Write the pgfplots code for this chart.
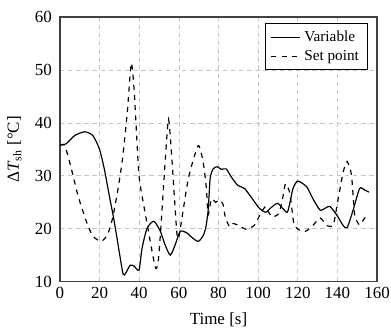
\documentclass[border=0pt]{standalone}
\usepackage{fontspec}
\setmainfont{Liberation Serif}
\usepackage{pgfplots}
\pgfplotsset{compat=1.18}
\begin{document}
\begin{tikzpicture}
\begin{axis}[
  width=187pt, height=156pt, scale only axis,
  xmin=0, xmax=160, ymin=10, ymax=60,
  xtick={0,20,...,160}, ytick={10,20,...,60},
  /pgf/number format/assume math mode=true,
  grid=major,
  major grid style={gray!45, dash pattern=on 2.6pt off 2.2pt, line width=0.35pt},
  major tick length=0pt,
  axis line style={black!75, line width=0.9pt},
  yticklabel style={xshift=-1.2pt},
  xlabel={Time [s]},
  xlabel style={yshift=-1.5pt},
  ylabel={Δ\textit{T}\textsubscript{sh} [°C]},
  ylabel style={yshift=1pt},
  legend style={at={(0.971,0.976)}, anchor=north east, draw=black, line width=0.5pt, font=\small, cells={anchor=west}},
  legend cell align=left,
]
\addplot[black, line width=0.7pt, smooth, tension=0.4] coordinates {
(0,35.8) (3,36.0) (7.5,37.6) (12.5,38.3) (16.6,37.6) (19.9,35.1) (22.4,31.3)
(24.9,26.3) (27.4,21.4) (29.9,15.7) (31.9,11.4) (33.2,11.6) (35.5,13.1)
(37.5,12.9) (39.9,12.2) (41.5,16.4) (44,20.1) (47.4,21.4) (50.7,19.5)
(53,17) (55.7,15) (58.2,17) (60.7,19.5) (64,19.2) (67,18.2) (69.8,17.6)
(72,18.5) (73.5,20) (74.8,23.5) (75.8,29.5) (77.3,31.3) (79.4,31.7)
(81.4,31.2) (83.9,31.3) (86.4,29.8) (89.7,28.2) (93.1,27.6) (96.4,26)
(100.5,23.9) (103.8,23.1) (106.3,23.9) (109.7,24.8) (112.2,23.9)
(114.7,23.1) (116.2,25.2) (117.6,27.6) (119.8,29) (123,28.4) (124.6,27.9)
(128,25.4) (131.3,23.5) (134,23.9) (136.2,24.2) (139.6,22.6) (142.9,20.6)
(144.9,20.2) (147.9,23.5) (151.2,27.6) (153.7,27.3) (155.9,26.9)
};
\addlegendentry{Variable}
\addplot[black, line width=0.7pt, dashed, smooth, tension=0.35] coordinates {
(0,35.8) (2.5,35.7) (5.8,31.3) (9.1,26.3) (13.3,21.4) (16.6,18.6)
(20.8,17.6) (24.1,18.9) (26.6,22) (29.1,27) (31.6,33.2) (34,42) (36,51.3)
(37.5,46) (39.9,30.1) (43.2,22.6) (46.5,15.7) (48.3,12.5) (49.5,13.5)
(50.7,18.9) (53.2,33.2) (54.8,40.7) (56.5,33.2) (59,19.2) (60.2,18.8)
(64.8,29.5) (69.8,35.7) (72.3,32.5) (73.9,27.6) (74.8,22.6) (76.4,25.6)
(78.6,25.0) (80.6,25.4) (82.3,24.6) (83.5,22) (85.6,20.4) (87,21)
(89.7,20.7) (93.9,19.9) (98,20.6) (101.3,22.9) (103.8,24.2) (105.5,23)
(107.2,22.2) (110.5,22.9) (112.5,26) (113.8,28.5) (116,26.7) (118,21)
(120.5,19.8) (123.8,19.5) (127.1,20.4) (131.3,22) (134.6,20.6)
(137.9,20.7) (140.4,25.7) (142.9,30.7) (144.9,32.7) (147.1,30.1)
(148.7,22.6) (151.2,20.7) (153.7,22) (155.9,22.2)
};
\addlegendentry{Set point}
\end{axis}
\pgfresetboundingbox
\path ([xshift=-35.3pt,yshift=10pt]current axis.north west) rectangle ([xshift=8.2pt,yshift=-27pt]current axis.south east);
\end{tikzpicture}
\end{document}
